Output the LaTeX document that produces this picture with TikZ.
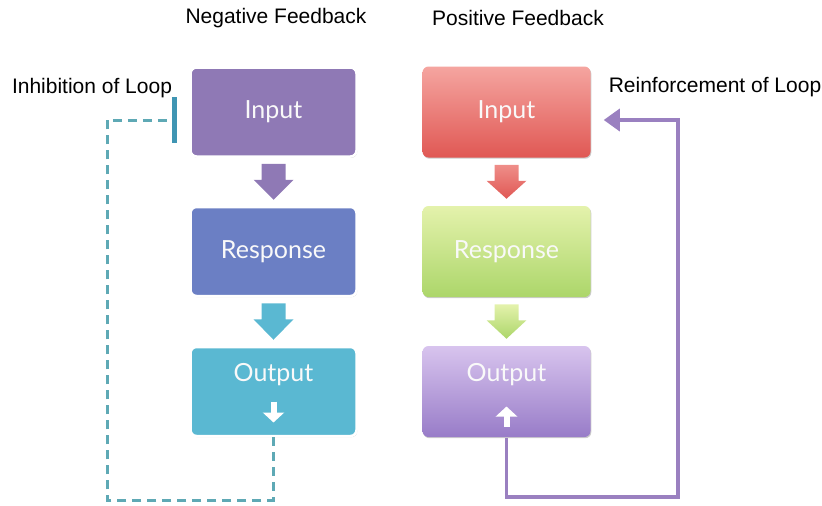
\documentclass[tikz,border=0pt]{standalone}
\usepackage{fontspec}
\setmainfont{Liberation Sans}
\newfontfamily\boxfont{Lato}
\usepackage{tikz}
\usetikzlibrary{positioning, arrows.meta, shadows, calc}

\definecolor{negin}{HTML}{8F79B5}
\definecolor{negresp}{HTML}{6B7FC4}
\definecolor{negout}{HTML}{5AB8D2}
\definecolor{dashcol}{HTML}{5EA9B5}
\definecolor{barcol}{HTML}{3F95B3}
\definecolor{loopcol}{HTML}{9A80C0}
\definecolor{posintop}{RGB}{245,165,160}
\definecolor{posinbot}{RGB}{224,88,84}
\definecolor{posresptop}{RGB}{228,242,172}
\definecolor{posrespbot}{RGB}{172,214,106}
\definecolor{posouttop}{RGB}{216,196,238}
\definecolor{posoutbot}{RGB}{152,124,200}

% freccia piena tra due blocchi (#1 sopra, #2 sotto, #3 riempimento)
\newcommand\blockarrow[3]{%
    \path[#3] ($(#1.south)+(-12,6)$) -- ++(24,0) -- ++(0,16) -- ++(8,0)
        -- ($(#2.north)+(0,-6)$) -- ($(#1.south)+(-20,22)$) -- ++(8,0) -- cycle;}

\begin{document}
\begin{tikzpicture}[x=1pt, y=-1pt]
    % Stili per i blocchi
    \tikzset{
        block/.style={
            rectangle,
            rounded corners=6pt,
            minimum width=166pt,
            minimum height=89pt,
            inner sep=0pt,
            align=center,
            text=white!95!gray,
            font=\boxfont\fontsize{25}{28}\selectfont,
            draw=white,
            line width=2.5pt,
            drop shadow={opacity=0.4, shadow xshift=0.8pt, shadow yshift=-1.2pt}
        },
        flatblock/.style={
            block,
            draw=none,
            minimum width=168pt,
            minimum height=91pt
        },
        outtext/.style={text height=17pt, text depth=38pt},
        smallarrow/.style={white, line width=6pt, -{Triangle[width=21pt, length=10pt]}},
        title/.style={font=\fontsize{21}{25}\selectfont}
    }

    \useasboundingbox (0,0) rectangle (822,506);

    % --- Colonna sinistra: retroazione negativa ---
    \node[title] at (276,18) {Negative Feedback};
    \node[block, fill=negin] (in1) at (273.5,112) {Input};
    \node[block, fill=negresp] (resp1) at (273.5,251.5) {Response};
    \node[block, fill=negout, outtext] (out1) at (273.5,391.5) {Output};
    \draw[smallarrow] ($(out1.center)+(0,10)$) -- ($(out1.center)+(0,31)$);

    \blockarrow{in1}{resp1}{fill=negin}
    \blockarrow{resp1}{out1}{fill=negout}

    % Anello tratteggiato con inibizione
    \coordinate (lc) at (107,500);
    \draw[dashcol, line width=3pt, dash pattern=on 9pt off 6pt,
          shorten >=12pt, -{Bar[width=46pt, line width=5pt, color=barcol]}]
        (out1.south) |- (lc) |- ([yshift=-8pt]in1.west);
    \node[title] at (92,88) {Inhibition of Loop};

    % --- Colonna destra: retroazione positiva ---
    \node[title] at (518,18) {Positive Feedback};
    \node[flatblock, top color=posintop, bottom color=posinbot]
        (in2) at (506.5,112) {Input};
    \node[flatblock, top color=posresptop, bottom color=posrespbot]
        (resp2) at (506.5,251.5) {Response};
    \node[flatblock, outtext, top color=posouttop, bottom color=posoutbot]
        (out2) at (506.5,391.5) {Output};
    \draw[smallarrow] ($(out2.center)+(0,35)$) -- ($(out2.center)+(0,15)$);

    \blockarrow{in2}{resp2}{top color=posintop!70!posinbot, bottom color=posinbot}
    \blockarrow{resp2}{out2}{top color=posresptop, bottom color=posrespbot}

    % Anello pieno di rinforzo
    \coordinate (rc) at (678,497);
    \draw[loopcol, line width=3.5pt, shorten >=12pt,
          -{Triangle[width=22pt, length=16pt]}]
        (out2.south) |- (rc) |- ([yshift=-8pt]in2.east);
    \node[title] at (715,87) {Reinforcement of Loop};
\end{tikzpicture}
\end{document}
